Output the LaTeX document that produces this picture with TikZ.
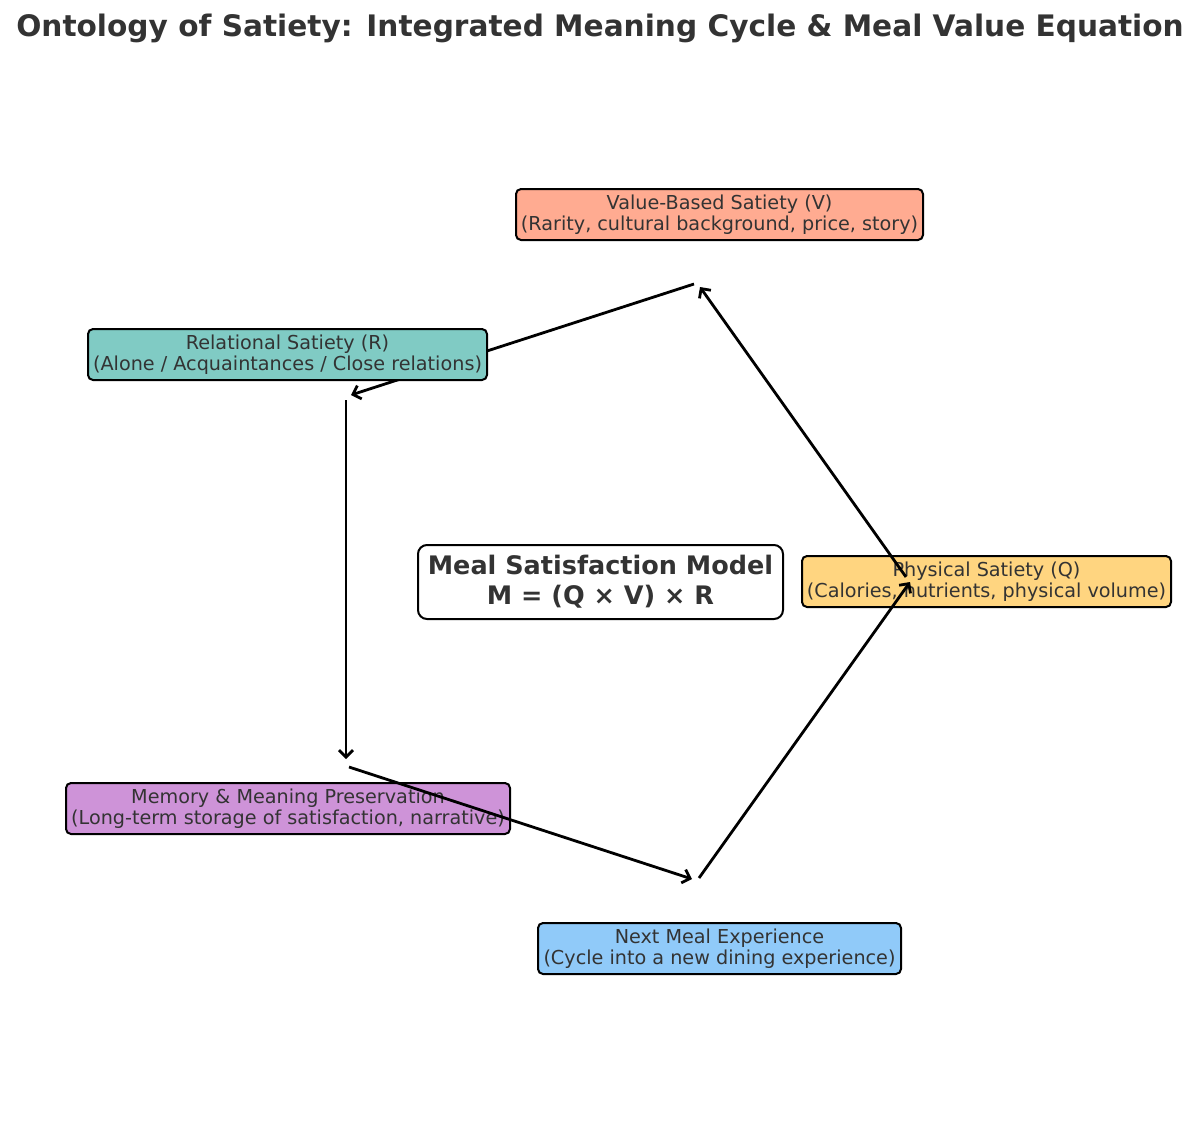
\documentclass[tikz,border=0pt]{standalone}
\usepackage{fontspec}
\setmainfont{DejaVu Sans}
\usetikzlibrary{arrows.meta}
\definecolor{txt}{HTML}{333333}
\definecolor{cval}{HTML}{FFAB91}
\definecolor{crel}{HTML}{80CBC4}
\definecolor{cphy}{HTML}{FFD580}
\definecolor{cmem}{HTML}{CE93D8}
\definecolor{cnext}{HTML}{90CAF9}
\begin{document}
\begin{tikzpicture}[x=1pt,y=-1pt,
  box/.style={draw=black, line width=2pt, rounded corners=5pt, align=center, text=txt,
    font=\fontsize{19.2}{21.5}\selectfont, inner xsep=2pt, inner ysep=0pt, minimum height=51pt},
  model/.style={draw=black, line width=2pt, rounded corners=9pt, align=center, text=txt, fill=white,
    font=\bfseries\fontsize{25.5}{30}\selectfont, minimum width=365pt, minimum height=74pt, inner sep=0pt},
  flow/.style={line width=2.8pt, -{Straight Barb[length=7pt,width=14pt,line width=2.8pt]}},
  ttl/.style={font=\bfseries\fontsize{29.6}{34}\selectfont, text=txt}]
\useasboundingbox (0,0) rectangle (1200,1128);
\fill[white] (0,0) rectangle (1200,1128);

\node[ttl] (title) at (600,28) {Ontology of Satiety: Integrated Meaning Cycle \& Meal Value Equation};

% arrow endpoints on the cycle
\coordinate (vS) at (694,284);
\coordinate (rE) at (351,395);
\coordinate (rS) at (346,400);
\coordinate (mE) at (346,759);
\coordinate (mS) at (349,767);
\coordinate (nE) at (692,879);
\coordinate (nS) at (699,878);
\coordinate (pE) at (910,582);
\coordinate (pS) at (906,577);
\coordinate (vE) at (700,287);

\draw[flow] (vS) -- (rE);

\node[box, fill=cval, minimum width=407pt] (val) at (719.5,214.5) {Value-Based Satiety (V)\\(Rarity, cultural background, price, story)};
\node[box, fill=crel, minimum width=399pt] (rel) at (287.5,354.5) {Relational Satiety (R)\\(Alone / Acquaintances / Close relations)};
\node[model] (model) at (600.5,582) {Meal Satisfaction Model\\M = (Q × V) × R};
\node[box, fill=cphy, minimum width=369pt] (phy) at (986.5,581.5) {Physical Satiety (Q)\\(Calories, nutrients, physical volume)};
\node[box, fill=cmem, minimum width=444pt] (mem) at (288,808.5) {Memory \& Meaning Preservation\\(Long-term storage of satisfaction, narrative)};
\node[box, fill=cnext, minimum width=363pt] (next) at (719.5,948.5) {Next Meal Experience\\(Cycle into a new dining experience)};

\draw[flow] (rS) -- (mE);
\draw[flow] (mS) -- (nE);
\draw[flow] (nS) -- (pE);
\draw[flow] (pS) -- (vE);
\end{tikzpicture}
\end{document}
